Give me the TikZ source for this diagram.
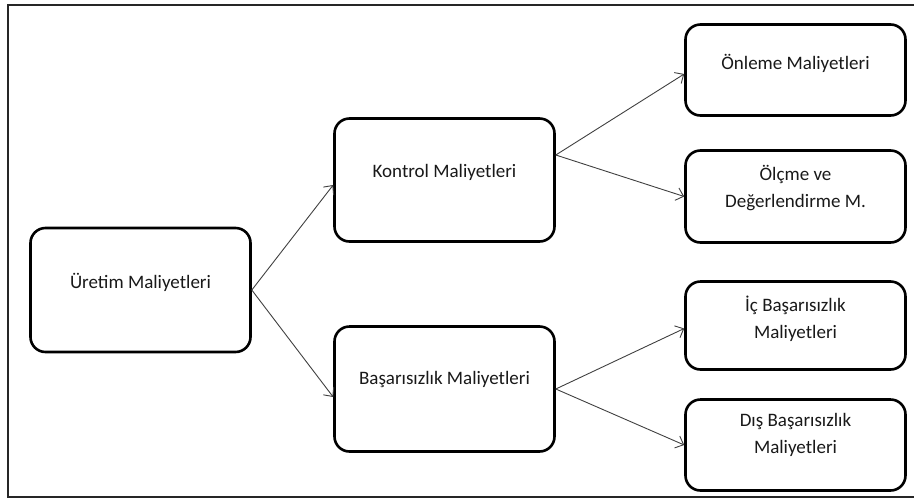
\documentclass[tikz,border=0pt]{standalone}
\usepackage{fontspec}
\setmainfont{Carlito}
\usetikzlibrary{arrows.meta}
\begin{document}
\begin{tikzpicture}[x=1pt,y=-1pt,
  costbox/.style={draw=black,line width=2.6pt,rounded corners=15pt,fill=white,
    minimum width=220pt,inner sep=0pt},
  boxtext/.style={font=\fontsize{19}{27}\selectfont,align=center,inner sep=0pt,text=black!90},
  link/.style={draw=black!75,line width=0.9pt,
    -{Straight Barb[length=7pt,width=13pt,line width=0.9pt]}}]
  \useasboundingbox (0,0) rectangle (914,499);
  % outer frame, running off the right edge
  \draw[line width=1.6pt,black!85] (920,5) -- (8,5) -- (8,497) -- (920,497);

  % boxes
  \node[costbox,minimum height=124pt] (u)  at (140.5,290)   {};
  \node[costbox,minimum height=123pt] (k)  at (444.5,180)   {};
  \node[costbox,minimum height=125pt] (b)  at (444.5,389)   {};
  \node[costbox,minimum height=91pt]  (o)  at (795.5,70)    {};
  \node[costbox,minimum height=92pt]  (m)  at (795.5,196.5) {};
  \node[costbox,minimum height=88pt]  (i)  at (795.5,325.5) {};
  \node[costbox,minimum height=91pt]  (d)  at (795.5,445)   {};

  % labels, set a little above each box centre
  \node[boxtext] (ut) at ([yshift=8pt]u.center)  {Üretim Maliyetleri};
  \node[boxtext] (kt) at ([yshift=8pt]k.center)  {Kontrol Maliyetleri};
  \node[boxtext] (bt) at ([yshift=10pt]b.center) {Başarısızlık Maliyetleri};
  \node[boxtext] (ot) at ([yshift=7pt]o.center)  {Önleme Maliyetleri};
  \node[boxtext] (mt) at ([yshift=8pt]m.center)  {Ölçme ve\\Değerlendirme M.};
  \node[boxtext] (it) at ([yshift=7pt]i.center)  {İç Başarısızlık\\Maliyetleri};
  \node[boxtext] (dt) at ([yshift=10pt]d.center) {Dış Başarısızlık\\Maliyetleri};

  % connectors
  \draw[link] (u.east) -- ([yshift=-5pt]k.west);
  \draw[link] (u.east) -- ([yshift=-8pt]b.west);
  \draw[link] ([yshift=25pt]k.east) -- ([yshift=-4pt]o.west);
  \draw[link] ([yshift=25pt]k.east) -- (m.west);
  \draw[link] (b.east) -- ([yshift=-3pt]i.west);
  \draw[link] (b.east) -- (d.west);
\end{tikzpicture}
\end{document}
